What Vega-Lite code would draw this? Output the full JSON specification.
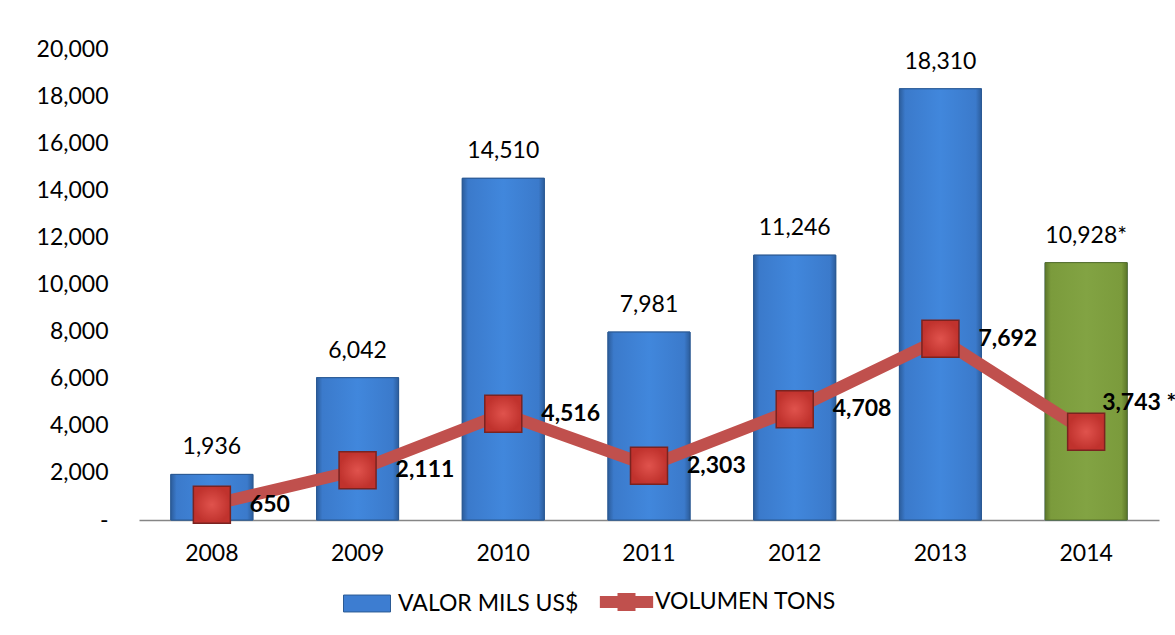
{
  "$schema": "https://vega.github.io/schema/vega-lite/v6.json",
  "width": 1020,
  "height": 471,
  "autosize": {"type": "none"},
  "padding": {"left": 139, "top": 49, "right": 16, "bottom": 115},
  "background": "white",
  "config": {
    "view": {"stroke": null},
    "font": "Lato",
    "axisX": {"domainColor": "#868686", "domainWidth": 1.5, "ticks": false, "grid": false, "labelFontSize": 23, "labelFont": "Lato", "labelColor": "#000000", "labelPadding": 22, "labelAngle": 0},
    "axisY": {"domain": false, "ticks": false, "grid": false, "labelFontSize": 23, "labelFont": "Lato", "labelColor": "#000000", "labelPadding": 31},
    "legend": {"labelFontSize": 23, "labelFont": "Lato", "labelColor": "#000000", "labelLimit": 0, "title": null}
  },
  "data": {
    "values": [
      {"year": "2008", "valor": 1936, "volumen": 650, "valorLabel": "1,936", "volLabel": "650"},
      {"year": "2009", "valor": 6042, "volumen": 2111, "valorLabel": "6,042", "volLabel": "2,111"},
      {"year": "2010", "valor": 14510, "volumen": 4516, "valorLabel": "14,510", "volLabel": "4,516"},
      {"year": "2011", "valor": 7981, "volumen": 2303, "valorLabel": "7,981", "volLabel": "2,303"},
      {"year": "2012", "valor": 11246, "volumen": 4708, "valorLabel": "11,246", "volLabel": "4,708"},
      {"year": "2013", "valor": 18310, "volumen": 7692, "valorLabel": "18,310", "volLabel": "7,692"},
      {"year": "2014", "valor": 10928, "volumen": 3743, "valorLabel": "10,928*", "volLabel": "3,743 *"}
    ]
  },
  "encoding": {
    "x": {"field": "year", "type": "nominal", "title": null, "scale": {"paddingInner": 0.437, "paddingOuter": 0.2185}}
  },
  "layer": [
    {
      "mark": {"type": "bar", "stroke": "#2b5a94", "strokeWidth": 1},
      "encoding": {
        "y": {"field": "valor", "type": "quantitative", "title": null, "scale": {"domain": [0, 20000]}, "axis": {"values": [0, 2000, 4000, 6000, 8000, 10000, 12000, 14000, 16000, 18000, 20000], "labelExpr": "datum.value == 0 ? '-\u00a0\u00a0\u00a0' : format(datum.value, ',')"}},
        "fill": {
          "condition": {"test": "datum.year == '2014'", "value": "#7f9f3f"},
          "datum": "VALOR MILS US$",
          "scale": {"domain": ["VALOR MILS US$"], "range": ["#3d7dd1"]},
          "legend": {
            "orient": "none",
            "legendX": 204,
            "legendY": 530.5,
            "title": null,
            "symbolType": "M-1,-0.36H1V0.36H-1Z",
            "symbolSize": 2209,
            "symbolStrokeColor": "#2b5a94",
            "symbolStrokeWidth": 1,
            "symbolOpacity": 1,
            "labelOffset": 7
          }
        }
      }
    },
    {
      "transform": [{"filter": "datum.year != '2014'"}],
      "mark": {"type": "bar", "stroke": "#2b5a94", "strokeWidth": 1, "color": {"gradient": "linear", "x1": 0, "y1": 0, "x2": 1, "y2": 0, "stops": [{"offset": 0, "color": "#2c5d9c"}, {"offset": 0.07, "color": "#3b7acb"}, {"offset": 0.5, "color": "#4187dc"}, {"offset": 0.93, "color": "#3b7acb"}, {"offset": 1, "color": "#2c5d9c"}]}},
      "encoding": {
        "y": {"field": "valor", "type": "quantitative", "title": null}
      }
    },
    {
      "transform": [{"filter": "datum.year == '2014'"}],
      "mark": {"type": "bar", "stroke": "#5a7328", "strokeWidth": 1, "color": {"gradient": "linear", "x1": 0, "y1": 0, "x2": 1, "y2": 0, "stops": [{"offset": 0, "color": "#5c772a"}, {"offset": 0.07, "color": "#7b9b3c"}, {"offset": 0.5, "color": "#82a343"}, {"offset": 0.93, "color": "#7b9b3c"}, {"offset": 1, "color": "#5c772a"}]}},
      "encoding": {
        "y": {"field": "valor", "type": "quantitative", "title": null}
      }
    },
    {
      "mark": {"type": "text", "baseline": "middle", "dy": -27, "fontSize": 23, "font": "Lato", "color": "#000000"},
      "encoding": {
        "y": {"field": "valor", "type": "quantitative", "title": null},
        "text": {"field": "valorLabel"}
      }
    },
    {
      "mark": {"type": "line", "strokeWidth": 12},
      "encoding": {
        "y": {"field": "volumen", "type": "quantitative", "title": null},
        "stroke": {
          "datum": "VOLUMEN TONS",
          "scale": {"domain": ["VOLUMEN TONS"], "range": ["#c0504d"]},
          "legend": {
            "orient": "none",
            "legendX": 461,
            "legendY": 526.5,
            "title": null,
            "symbolType": "M-1.3,0H1.3M-0.146,-0.146H0.146V0.146H-0.146Z",
            "symbolSize": 1681,
            "symbolStrokeWidth": 12,
            "symbolOpacity": 1,
            "labelOffset": 2
          }
        }
      }
    },
    {
      "mark": {"type": "point", "shape": "square", "filled": true, "size": 1369, "opacity": 1, "fill": {"gradient": "radial", "stops": [{"offset": 0, "color": "#e0534d"}, {"offset": 1, "color": "#c0322d"}]}, "stroke": "#7a2320", "strokeWidth": 1.5},
      "encoding": {
        "y": {"field": "volumen", "type": "quantitative", "title": null}
      }
    },
    {
      "transform": [{"filter": "datum.year != '2014'"}],
      "mark": {"type": "text", "align": "left", "baseline": "middle", "dx": 38, "fontSize": 23, "fontWeight": "bold", "font": "Lato", "color": "#000000"},
      "encoding": {
        "y": {"field": "volumen", "type": "quantitative", "title": null},
        "text": {"field": "volLabel"}
      }
    },
    {
      "transform": [{"filter": "datum.year == '2014'"}],
      "mark": {"type": "text", "align": "left", "baseline": "middle", "dx": 16, "dy": -29, "fontSize": 23, "fontWeight": "bold", "font": "Lato", "color": "#000000"},
      "encoding": {
        "y": {"field": "volumen", "type": "quantitative", "title": null},
        "text": {"field": "volLabel"}
      }
    }
  ]
}
